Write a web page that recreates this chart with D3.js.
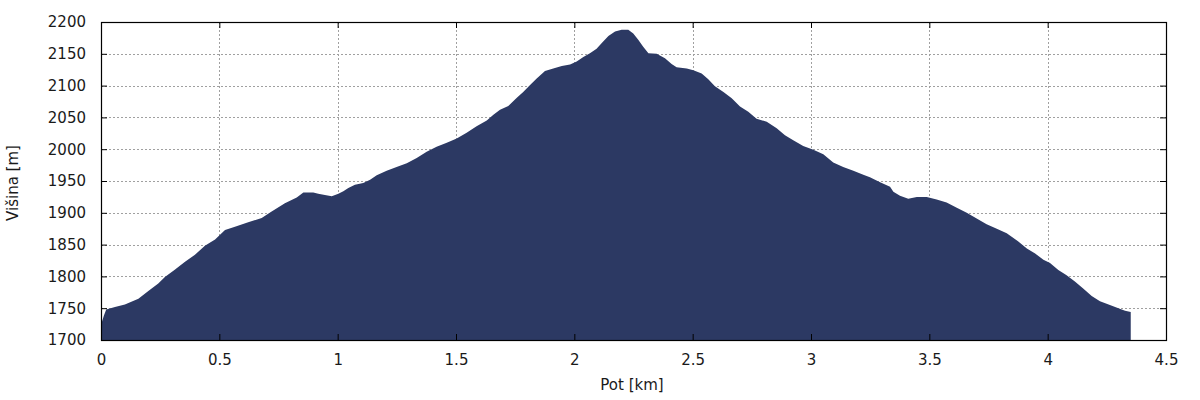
<!DOCTYPE html>
<html>
<head>
<meta charset="utf-8">
<script src="https://cdn.jsdelivr.net/npm/d3@7"></script>
<style>
  html, body { margin: 0; padding: 0; background: #fff; }
  svg { display: block; }
  text { font-family: "DejaVu Sans", sans-serif; fill: #1a1a1a; }
</style>
</head>
<body>
<svg id="chart" width="1200" height="400"></svg>
<script>
// Distance along the route [km]
const distance = [0, 0.005, 0.012, 0.022, 0.059, 0.101, 0.158, 0.2, 0.242, 0.27, 0.313, 0.355, 0.397, 0.439, 0.482, 0.524, 0.566, 0.622, 0.679, 0.721, 0.777, 0.827, 0.855, 0.897, 0.918, 0.946, 0.975, 1.003, 1.024, 1.045, 1.073, 1.108, 1.137, 1.165, 1.207, 1.249, 1.292, 1.334, 1.376, 1.418, 1.461, 1.503, 1.545, 1.587, 1.63, 1.658, 1.686, 1.721, 1.757, 1.784, 1.813, 1.841, 1.876, 1.911, 1.947, 1.982, 2.01, 2.038, 2.066, 2.094, 2.116, 2.144, 2.172, 2.2, 2.228, 2.249, 2.27, 2.291, 2.313, 2.348, 2.383, 2.411, 2.432, 2.475, 2.503, 2.538, 2.566, 2.594, 2.63, 2.665, 2.7, 2.735, 2.77, 2.813, 2.855, 2.89, 2.925, 2.967, 3.01, 3.052, 3.094, 3.136, 3.179, 3.221, 3.249, 3.292, 3.334, 3.348, 3.376, 3.411, 3.447, 3.489, 3.531, 3.573, 3.616, 3.658, 3.7, 3.742, 3.785, 3.827, 3.876, 3.912, 3.947, 3.982, 4.01, 4.045, 4.08, 4.115, 4.15, 4.186, 4.221, 4.263, 4.299, 4.327, 4.351];
// Elevation [m]
const elevation = [1720, 1730, 1738, 1748, 1752, 1756, 1765, 1777, 1789, 1799, 1811, 1823, 1834, 1848, 1858, 1873, 1878, 1885, 1892, 1902, 1915, 1924, 1932, 1932, 1930, 1928, 1926, 1930, 1934, 1939, 1944, 1947, 1952, 1959, 1966, 1972, 1978, 1986, 1996, 2004, 2010, 2017, 2026, 2036, 2045, 2054, 2062, 2068, 2081, 2090, 2101, 2111, 2123, 2127, 2131, 2133, 2138, 2145, 2151, 2158, 2167, 2178, 2185, 2188, 2188, 2182, 2172, 2161, 2151, 2150, 2143, 2134, 2129, 2127, 2124, 2119, 2110, 2099, 2090, 2080, 2067, 2059, 2048, 2043, 2033, 2022, 2014, 2005, 1999, 1992, 1979, 1972, 1966, 1960, 1956, 1948, 1941, 1933, 1927, 1922, 1925, 1925, 1921, 1916, 1908, 1900, 1891, 1882, 1875, 1868, 1855, 1844, 1836, 1826, 1821, 1810, 1802, 1792, 1781, 1769, 1761, 1755, 1750, 1746, 1744];
const xTicks = [0, 0.5, 1, 1.5, 2, 2.5, 3, 3.5, 4, 4.5];
const yTicks = [1700, 1750, 1800, 1850, 1900, 1950, 2000, 2050, 2100, 2150, 2200];
const xTitle = "Pot [km]";
const yTitle = "Višina [m]";

const profile = distance.map((d, i) => ({ d, e: elevation[i] }));

const svg = d3.select("#chart");
const L = 101, R = 1166, T = 22, B = 340;

const x = d3.scaleLinear().domain([0, 4.5]).range([L, R]);
const y = d3.scaleLinear().domain([1700, 2200]).range([B, T]);

// grid
const grid = svg.append("g");
grid.selectAll("line.gx").data(xTicks.slice(1, -1)).join("line")
  .attr("x1", d => Math.round(x(d)) + 0.5).attr("x2", d => Math.round(x(d)) + 0.5)
  .attr("y1", T).attr("y2", B)
  .attr("stroke", "#a0a0a0").attr("stroke-width", 1).attr("stroke-dasharray", "2,2");
grid.selectAll("line.gy").data(yTicks.slice(1, -1)).join("line")
  .attr("y1", d => Math.round(y(d)) + 0.5).attr("y2", d => Math.round(y(d)) + 0.5)
  .attr("x1", L).attr("x2", R)
  .attr("stroke", "#a0a0a0").attr("stroke-width", 1).attr("stroke-dasharray", "2,2");

// area
const area = d3.area()
  .x(p => x(p.d))
  .y0(y(1700) + 1)
  .y1(p => y(p.e))
  .curve(d3.curveLinear);
svg.append("path").datum(profile)
  .attr("d", area)
  .attr("fill", "#2c3963");

// border
svg.append("rect").attr("x", L + 0.5).attr("y", T + 0.5)
  .attr("width", R - L).attr("height", B - T)
  .attr("fill", "none").attr("stroke", "#000").attr("stroke-width", 1.2);

// inward ticks via d3 axes
const tickLen = 6;
const axB = svg.append("g").attr("transform", `translate(0,${B})`)
  .call(d3.axisBottom(x).tickValues(xTicks).tickSize(-tickLen).tickPadding(tickLen + 8).tickFormat(d3.format("")));
const axT = svg.append("g").attr("transform", `translate(0,${T})`)
  .call(d3.axisTop(x).tickValues(xTicks).tickSize(-tickLen).tickFormat(""));
const axL = svg.append("g").attr("transform", `translate(${L},0)`)
  .call(d3.axisLeft(y).tickValues(yTicks).tickSize(-tickLen).tickPadding(tickLen + 9).tickFormat(d3.format("")));
const axR = svg.append("g").attr("transform", `translate(${R},0)`)
  .call(d3.axisRight(y).tickValues(yTicks).tickSize(-tickLen).tickFormat(""));
[axB, axT, axL, axR].forEach(a => {
  a.select(".domain").remove();
  a.selectAll(".tick line").attr("stroke", "#000");
  a.selectAll("text").attr("font-family", "DejaVu Sans, sans-serif").attr("font-size", 15).attr("fill", "#1a1a1a");
});
axB.selectAll("text").attr("dy", "0.71em");

// titles
svg.append("text").attr("x", 632).attr("y", 390)
  .attr("text-anchor", "middle").attr("font-size", 15).text(xTitle);
svg.append("text").attr("transform", "translate(18,183) rotate(-90)")
  .attr("text-anchor", "middle").attr("font-size", 15).text(yTitle);
</script>
</body>
</html>
